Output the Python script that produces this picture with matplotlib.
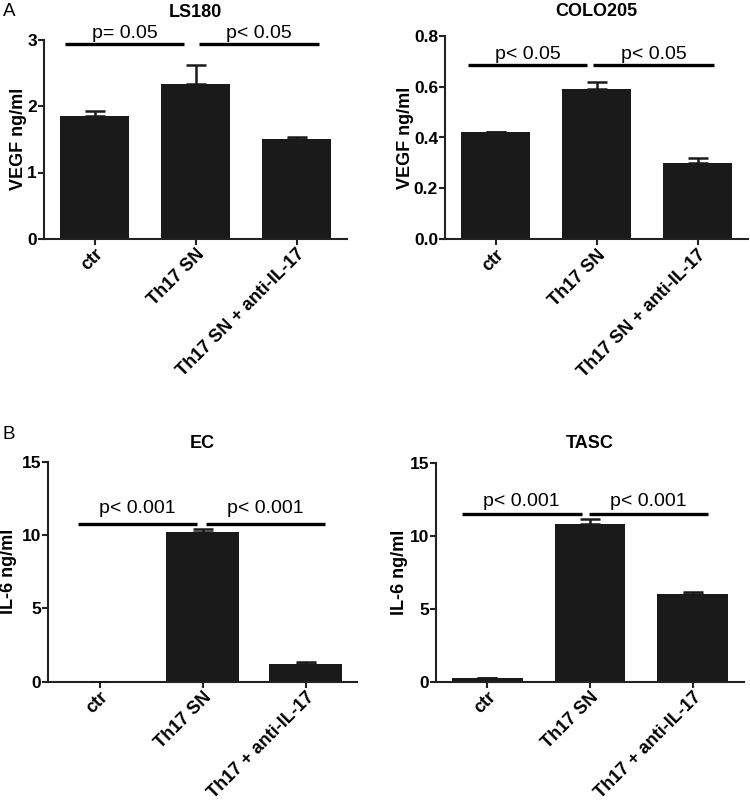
import matplotlib
matplotlib.use("Agg")
import numpy as np
import matplotlib.pyplot as plt

plt.rcParams['font.family'] = ['Liberation Sans', 'DejaVu Sans']

# ---------- data ----------
cats_a = ["ctr", "Th17 SN", "Th17 SN + anti-IL-17"]
cats_b = ["ctr", "Th17 SN", "Th17 + anti-IL-17"]

ls180_mean = [1.85, 2.33, 1.51]
ls180_err = [0.07, 0.28, 0.02]
colo205_mean = [0.42, 0.59, 0.30]
colo205_err = [0.003, 0.03, 0.02]
ec_mean = [0.0, 10.2, 1.22]
ec_err = [0.0, 0.2, 0.1]
tasc_mean = [0.25, 10.8, 6.0]
tasc_err = [0.02, 0.35, 0.12]

ls180_p = ["p= 0.05", "p< 0.05"]
colo205_p = ["p< 0.05", "p< 0.05"]
ec_p = ["p< 0.001", "p< 0.001"]
tasc_p = ["p< 0.001", "p< 0.001"]

W, H = 750, 802
BAR = "#1a1a1a"


def px_axes(fig, x0, x1, ytop, ybot):
    return fig.add_axes([x0 / W, 1 - ybot / H, (x1 - x0) / W, (ybot - ytop) / H])


def panel(ax, cats, mean, err, ylim, yticks, yticklabels, ylabel, title, pvals, sig_y, spans,
          barw, text_pad, title_pad, labelpad):
    x = np.arange(len(cats))
    ax.bar(x, mean, width=barw, color=BAR, zorder=2)
    ax.errorbar(x, mean, yerr=[np.zeros(len(err)), err], fmt="none", ecolor=BAR,
                elinewidth=1.8, capsize=7, capthick=1.8, zorder=3)
    ax.set_xlim(-0.5, 2.5)
    ax.set_ylim(*ylim)
    ax.set_yticks(yticks)
    ax.set_yticklabels(yticklabels, fontweight="bold", fontsize=12.5)
    ax.set_xticks(x)
    ax.set_xticklabels(cats, rotation=45, ha="right", rotation_mode="anchor",
                       fontweight="bold", fontsize=13)
    for s in ["top", "right"]:
        ax.spines[s].set_visible(False)
    for s in ["left", "bottom"]:
        ax.spines[s].set_linewidth(1.5)
        ax.spines[s].set_color("#222222")
    ax.tick_params(axis="both", direction="out", length=4, width=1.5, color="#222222", pad=1)
    ax.set_ylabel(ylabel, fontsize=13, fontweight="bold", labelpad=labelpad)
    ax.set_title(title, fontsize=13, fontweight="bold", pad=title_pad)
    for (a, b), p in zip(spans, pvals):
        ax.plot([a, b], [sig_y, sig_y], color="black", lw=2.4, solid_capstyle="butt",
                clip_on=False, zorder=4)
        ax.text((a + b) / 2, sig_y + text_pad, p, ha="center", va="bottom",
                fontsize=14, clip_on=False)


fig = plt.figure(figsize=(W / 100, H / 100), dpi=100)

ax1 = px_axes(fig, 44, 347, 39.5, 239)
panel(ax1, cats_a, ls180_mean, ls180_err, (0, 3), [0, 1, 2, 3], ["0", "1", "2", "3"],
      "VEGF ng/ml", "LS180", ls180_p, 2.93, [(-0.29, 0.89), (1.03, 2.22)], 0.68, 0.03, 16, 0)

ax2 = px_axes(fig, 445, 748, 35.7, 239.3)
panel(ax2, cats_a, colo205_mean, colo205_err, (0, 0.8), [0.0, 0.2, 0.4, 0.6, 0.8],
      ["0.0", "0.2", "0.4", "0.6", "0.8"], "VEGF ng/ml", "COLO205", colo205_p, 0.685,
      [(-0.27, 0.91), (0.97, 2.16)], 0.68, 0.008, 14, 0)

ax3 = px_axes(fig, 48, 357, 462, 681.7)
panel(ax3, cats_b, ec_mean, ec_err, (0, 15), [0, 5, 10, 15], ["0", "5", "10", "15"],
      "IL-6 ng/ml", "EC", ec_p, 10.8, [(-0.21, 0.95), (1.03, 2.19)], 0.70, 0.45, 10, 3)

ax4 = px_axes(fig, 436, 744, 463, 681.7)
panel(ax4, cats_b, tasc_mean, tasc_err, (0, 15), [0, 5, 10, 15], ["0", "5", "10", "15"],
      "IL-6 ng/ml", "TASC", tasc_p, 11.5, [(-0.25, 0.92), (0.995, 2.15)], 0.69, 0.3, 11, 1)

fig.text(3 / W, 1 - 11 / H, "A", fontsize=13.5, va="center", ha="left")
fig.text(3 / W, 1 - 434 / H, "B", fontsize=13.5, va="center", ha="left")

fig.savefig("out.png", dpi=100)
